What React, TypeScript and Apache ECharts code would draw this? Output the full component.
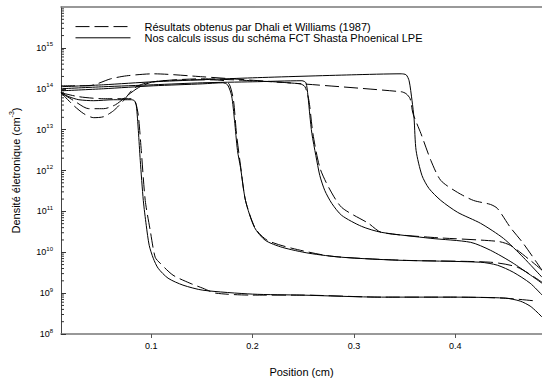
import React, { useEffect, useRef } from "react";
import * as echarts from "echarts";

const DHALI = "Résultats obtenus par Dhali et Williams (1987)";
const FCT = "Nos calculs issus du schéma FCT Shasta Phoenical LPE";

const xTickLabels = [0.1, 0.2, 0.3, 0.4];
const yDecades = [8, 9, 10, 11, 12, 13, 14, 15];
const minorMultipliers = [2, 3, 4, 5, 6, 7, 8, 9];

// Solid curves (FCT Shasta Phoenical LPE)
const fct1 = [
  [0.011, 7.98e13], [0.0188, 6.38e13], [0.0286, 5.39e13], [0.0433, 5.1e13], [0.0628, 5.39e13],
  [0.0804, 5.39e13], [0.0834, 5.1e13], [0.0853, 3.85e13], [0.0873, 9.46e12], [0.0892, 1.75e12],
  [0.0922, 1.85e11], [0.0951, 4.56e10], [0.098, 1.48e10], [0.102, 7.14e9], [0.1068, 4.07e9],
  [0.1166, 2.32e9], [0.1313, 1.57e9], [0.1509, 1.18e9], [0.1998, 9.46e8], [0.2487, 8.94e8],
  [0.327, 7.98e8], [0.3955, 7.98e8], [0.4493, 7.55e8], [0.464, 6.38e8], [0.4738, 4.82e8],
  [0.4806, 3.44e8], [0.4855, 2.6e8],
];
const fct2 = [
  [0.011, 8.9e13], [0.053, 1.0e14], [0.102, 1.18e14], [0.1509, 1.32e14], [0.1705, 1.4e14],
  [0.1753, 1.25e14], [0.1793, 6.75e13], [0.1822, 1.66e13], [0.1851, 3.07e12], [0.1881, 1.18e12],
  [0.193, 1.85e11], [0.2018, 4.07e10], [0.2125, 1.96e10], [0.2292, 1.32e10], [0.2556, 9.46e9],
  [0.2879, 7.55e9], [0.3436, 6.38e9], [0.4249, 5.7e9], [0.4415, 4.82e9], [0.4571, 3.25e9],
  [0.4738, 1.75e9], [0.4855, 9.0e8],
];
const fct3 = [
  [0.011, 1.0e14], [0.053, 1.12e14], [0.102, 1.25e14], [0.1509, 1.4e14], [0.1998, 1.48e14],
  [0.2487, 1.57e14], [0.2526, 1.4e14], [0.2546, 6.75e13], [0.2565, 2.19e13], [0.2585, 7.98e12],
  [0.2624, 2.32e12], [0.2663, 7.55e11], [0.2712, 3.25e11], [0.2781, 1.57e11], [0.2879, 7.98e10],
  [0.3074, 4.31e10], [0.327, 3.07e10], [0.3759, 2.19e10], [0.4151, 1.75e10], [0.4346, 1.12e10],
  [0.4571, 5.39e9], [0.4855, 1.75e9],
];
const fct4 = [
  [0.011, 1.12e14], [0.053, 1.25e14], [0.102, 1.48e14], [0.1998, 1.85e14], [0.2977, 2.19e14],
  [0.3466, 2.32e14], [0.3515, 2.19e14], [0.3544, 1.57e14], [0.3573, 5.1e13], [0.3593, 1.85e13],
  [0.3613, 3.07e12], [0.3671, 7.55e11], [0.374, 3.64e11], [0.3857, 1.85e11], [0.4023, 9.46e10],
  [0.4249, 5.1e10], [0.4474, 2.19e10], [0.4669, 7.55e9], [0.4855, 2.45e9],
];

// Dashed curves (Dhali & Williams 1987)
const dhali1 = [
  [0.011, 7.98e13], [0.0286, 6.38e13], [0.053, 5.7e13], [0.0804, 5.7e13], [0.0843, 4.82e13],
  [0.0873, 2.19e13], [0.0902, 3.07e12], [0.0941, 1.85e11], [0.099, 3.44e10], [0.1039, 7.55e9],
  [0.1088, 5.39e9], [0.1215, 2.75e9], [0.1382, 1.75e9], [0.1509, 1.32e9], [0.1636, 1.0e9],
  [0.1998, 8.94e8], [0.2487, 8.94e8], [0.327, 7.98e8], [0.3955, 7.98e8], [0.4474, 7.55e8],
  [0.4806, 6.38e8],
];
const dhali2 = [
  [0.011, 7.98e13], [0.0237, 3.85e13], [0.0335, 2.45e13], [0.0433, 1.96e13], [0.053, 2.07e13],
  [0.0628, 2.9e13], [0.0726, 5.1e13], [0.0824, 1.0e14], [0.0922, 1.32e14], [0.1117, 1.57e14],
  [0.1509, 1.66e14], [0.1724, 1.57e14], [0.1773, 1.25e14], [0.1812, 5.1e13], [0.1841, 7.98e12],
  [0.1881, 1.32e12], [0.193, 1.85e11], [0.2027, 3.85e10], [0.2145, 1.96e10], [0.2389, 1.25e10],
  [0.2781, 7.98e9], [0.3466, 6.38e9], [0.4346, 5.7e9], [0.4611, 4.31e9], [0.4855, 1.85e9],
];
const dhali3 = [
  [0.011, 7.98e13], [0.0237, 5.1e13], [0.0384, 3.25e13], [0.053, 3.25e13], [0.0648, 4.07e13],
  [0.0775, 7.14e13], [0.0873, 1.06e14], [0.102, 1.48e14], [0.1509, 1.75e14], [0.1998, 1.57e14],
  [0.2468, 1.32e14], [0.2517, 1.12e14], [0.2556, 5.1e13], [0.2595, 7.98e12], [0.2663, 1.18e12],
  [0.2751, 3.85e11], [0.2879, 1.25e11], [0.3143, 5.1e10], [0.327, 3.07e10], [0.3759, 2.32e10],
  [0.4415, 1.85e10], [0.4542, 1.48e10], [0.4738, 6.38e9], [0.4855, 3.64e9],
];
const dhali4 = [
  [0.011, 1.18e14], [0.0384, 1.18e14], [0.06, 1.75e14], [0.0755, 2.07e14], [0.102, 2.32e14],
  [0.1509, 1.96e14], [0.2487, 1.32e14], [0.3466, 8.45e13], [0.3515, 7.55e13], [0.3554, 5.7e13],
  [0.3583, 2.45e13], [0.3661, 7.98e12], [0.3759, 1.75e12], [0.3857, 5.7e11], [0.4023, 2.9e11],
  [0.418, 1.85e11], [0.4346, 1.48e11], [0.4415, 1.18e11], [0.4542, 4.07e10], [0.4669, 1.66e10],
  [0.4855, 3.64e9],
];

const X_MIN = 0.011;
const X_MAX = 0.4855;
const FONT = "Liberation Sans, Arial, sans-serif";

export default function App() {
  const ref = useRef<HTMLDivElement>(null);

  useEffect(() => {
    if (!ref.current) return;
    const chart = echarts.init(ref.current, undefined, { renderer: "svg" });

    const minorTicks: number[][] = [];
    yDecades.forEach((d) => {
      minorMultipliers.forEach((m) => {
        minorTicks.push([X_MIN, m * Math.pow(10, d)]);
      });
    });

    const lineSeries = (name: string, data: number[][], dashed: boolean) => ({
      type: "line",
      name,
      data,
      symbol: "none",
      showSymbol: false,
      smooth: 0.25,
      clip: true,
      itemStyle: { color: "#000" },
      lineStyle: { color: "#000", width: 1, type: dashed ? [14, 5] : "solid" },
      emphasis: { disabled: true },
    });

    chart.setOption({
      animation: false,
      textStyle: { fontFamily: FONT },
      grid: { left: 57, right: 0, top: 7, bottom: 49, containLabel: false },
      legend: {
        left: 70,
        top: 16,
        orient: "vertical",
        itemWidth: 55,
        itemHeight: 14,
        itemGap: 0,
        selectedMode: false,
        itemStyle: { opacity: 0 },
        lineStyle: { width: 1, color: "#000" },
        data: [{ name: DHALI }, { name: FCT }],
        textStyle: { fontSize: 11, color: "#000", fontFamily: FONT, padding: [0, 0, 0, 9] },
      },
      xAxis: [
        {
          type: "value",
          min: X_MIN,
          max: X_MAX,
          name: "Position (cm)",
          nameLocation: "middle",
          nameGap: 32,
          nameTextStyle: { fontSize: 11, color: "#000", fontFamily: FONT },
          axisLine: { show: true, lineStyle: { color: "#777", width: 1.5 } },
          axisTick: { show: true, inside: false, length: 4, customValues: xTickLabels, lineStyle: { color: "#555" } },
          axisLabel: {
            customValues: xTickLabels,
            fontSize: 9,
            color: "#000",
            margin: 7,
            fontFamily: FONT,
            formatter: (v: number) => String(Math.round(v * 10) / 10),
          },
          splitLine: { show: false },
        },
        {
          type: "value",
          position: "top",
          min: X_MIN,
          max: X_MAX,
          axisLine: { show: true, lineStyle: { color: "#777", width: 1.5 } },
          axisTick: { show: false },
          axisLabel: { show: false },
          splitLine: { show: false },
        },
      ],
      yAxis: {
        type: "log",
        logBase: 10,
        min: 1e8,
        max: 1e16,
        name: "Densité életronique (cm{sup|-3})",
        nameLocation: "middle",
        nameGap: 38,
        nameTextStyle: {
          fontSize: 11,
          color: "#000",
          fontFamily: FONT,
          rich: { sup: { fontSize: 7, padding: [0, 0, 8, 0], color: "#000" } },
        },
        axisLine: { show: true, lineStyle: { color: "#444", width: 1 } },
        axisTick: { show: true, inside: true, length: 5, lineStyle: { color: "#333" } },
        axisLabel: {
          fontSize: 9,
          color: "#000",
          margin: 8,
          fontFamily: FONT,
          showMaxLabel: false,
          formatter: (v: number) => {
            const e = Math.round(Math.log10(v));
            if (e >= 16) return "";
            return "10{sup|" + e + "}";
          },
          rich: { sup: { fontSize: 6, padding: [0, 0, 7, 0], color: "#000" } },
        },
        splitLine: { show: false },
        minorTick: { show: false },
      },
      series: [
        lineSeries(DHALI, dhali1, true),
        lineSeries(DHALI, dhali2, true),
        lineSeries(DHALI, dhali3, true),
        lineSeries(DHALI, dhali4, true),
        lineSeries(FCT, fct1, false),
        lineSeries(FCT, fct2, false),
        lineSeries(FCT, fct3, false),
        lineSeries(FCT, fct4, false),
        {
          type: "custom",
          name: "minorTicks",
          data: minorTicks,
          silent: true,
          clip: false,
          renderItem: (params: any, api: any) => {
            const p = api.coord([api.value(0), api.value(1)]);
            return {
              type: "line",
              shape: { x1: p[0], y1: p[1], x2: p[0] + 3, y2: p[1] },
              style: { stroke: "#333", lineWidth: 1 },
            };
          },
        },
      ],
    });

    return () => chart.dispose();
  }, []);

  return <div ref={ref} style={{ width: 542, height: 383, position: "absolute", left: 0, top: 0 }} />;
}
